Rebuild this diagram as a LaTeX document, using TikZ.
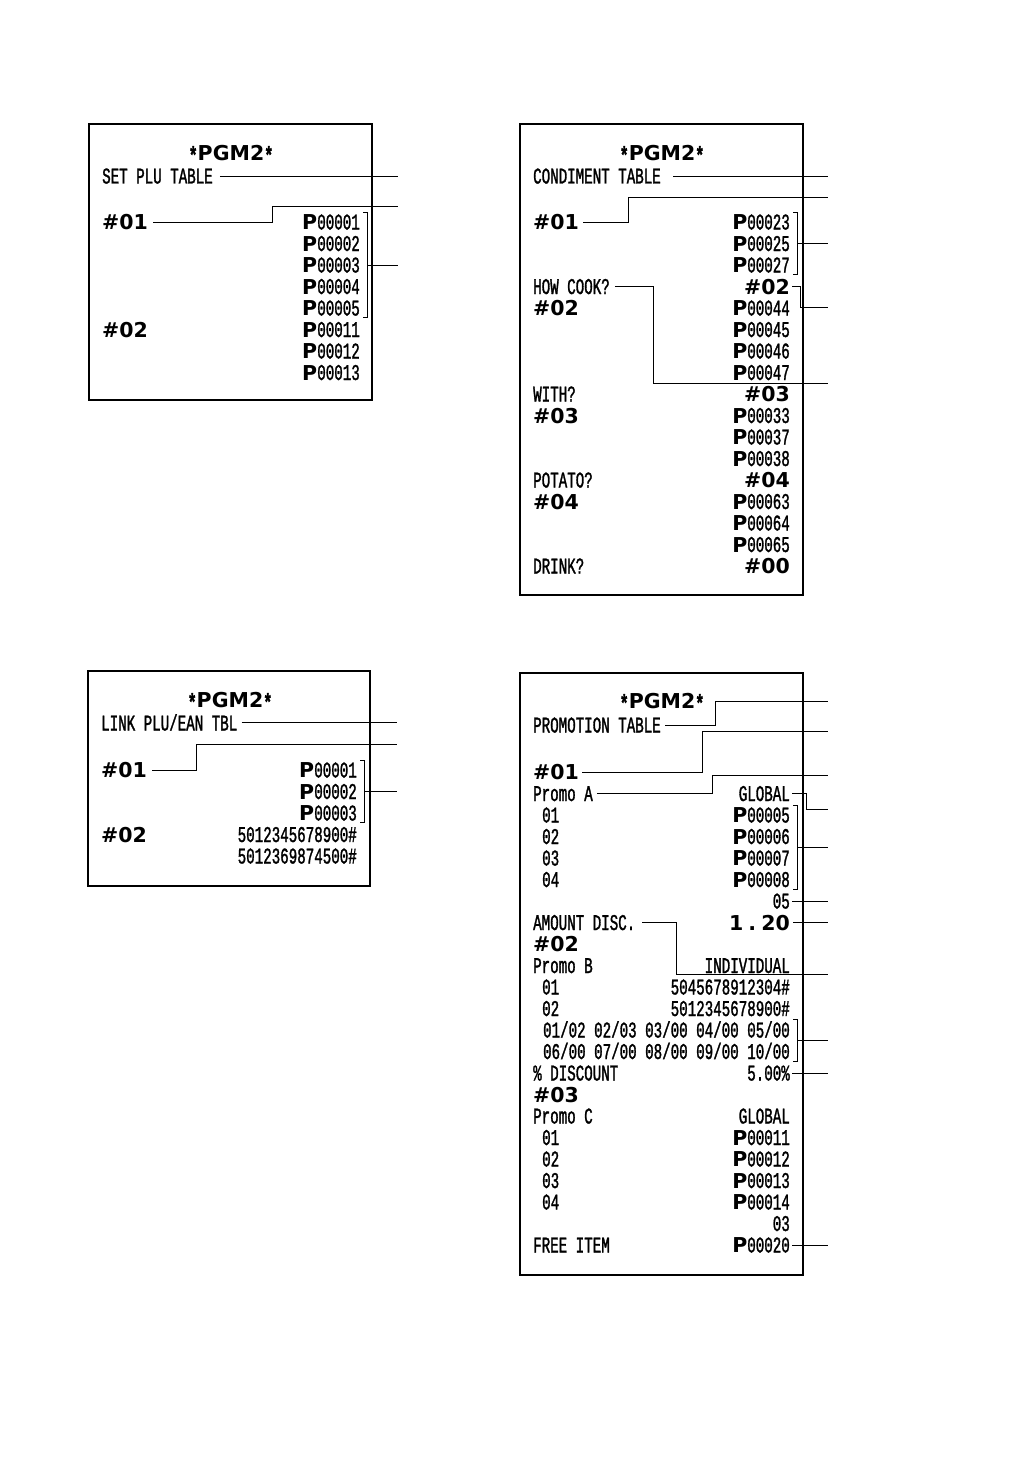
\documentclass[tikz,border=0pt]{standalone}
\usepackage{fontspec}
\usetikzlibrary{calc}
\newfontfamily\rcpt{Liberation Mono}[FakeStretch=0.63,FakeBold=1.3]
\newfontfamily\bigb{DejaVu Sans}
\newcommand\rc{\fontsize{22.5}{24}\rcpt}
\newcommand\bg{\fontsize{20.5}{22}\bigb\bfseries}
\newcommand\plu[1]{{\bg P}#1}
\newcommand\stx{\raisebox{-3pt}{\fontsize{24}{24}\rcpt*}}
\tikzset{
  slip/.style={draw,line width=1.2pt},
  lead/.style={line width=1pt},
  lt/.style={inner sep=0pt,anchor=base west,font=\rc},
  rt/.style={inner sep=0pt,anchor=base east,font=\rc},
  hd/.style={inner sep=0pt,anchor=base,font=\bg},
}
\begin{document}
\begin{tikzpicture}[x=1pt,y=-1pt]
    \useasboundingbox (0,0) rectangle (1032,1458);
    % set plu table
    \draw[slip] (89,124) rectangle (372,400);
    \node[hd] (pluhd) at (231,160.5) {\stx PGM2\stx};
    \node[lt] (plutt) at (102,183.5) {SET PLU TABLE};
    \node[lt,font=\bg] (plul0) at (102,229.5) {\#01};
    \node[lt,font=\bg] (plul5) at (102,337) {\#02};
    \foreach \n/\v in {0/00001,1/00002,2/00003,3/00004,4/00005,5/00011,6/00012,7/00013}
        {\node[rt] (plur\n) at (360,229.5+21.5*\n) {\plu{\v}};}
    \coordinate (pluea) at (398,175);
    \coordinate (plueb) at (398,206);
    \coordinate (pluec) at (398,265);
    \draw[lead] ([xshift=7pt]plutt.east) -- (plutt.east -| pluea);
    \draw[lead] ([xshift=5pt]plul0.east) -- ++(119,0) |- (plueb);
    \draw[lead] ([shift={(3pt,2pt)}]plur0.north east) -- ++(4,0) |- ([shift={(3pt,-2pt)}]plur4.south east);
    \draw[lead] ([xshift=7pt]plur2.east) -- (plur2.east -| pluec);
    % condiment table
    \draw[slip] (520,124) rectangle (803,595);
    \node[hd] (cndhd) at (662,160.5) {\stx PGM2\stx};
    \node[lt] (cndtt) at (533,183.5) {CONDIMENT TABLE};
    \foreach \n/\t in {3/HOW COOK?,8/WITH?,12/POTATO?,16/DRINK?}
        {\node[lt] (cndl\n) at (533,229.5+21.5*\n) {\t};}
    \foreach \n/\v in {0/01,4/02,9/03,13/04}
        {\node[lt,font=\bg] (cndl\n) at (533,229.5+21.5*\n) {\#\v};}
    \foreach \n/\v in {0/00023,1/00025,2/00027,4/00044,5/00045,6/00046,7/00047,9/00033,10/00037,11/00038,13/00063,14/00064,15/00065}
        {\node[rt] (cndr\n) at (790,229.5+21.5*\n) {\plu{\v}};}
    \foreach \n/\v in {3/02,8/03,12/04,16/00}
        {\node[rt,font=\bg] (cndr\n) at (790,229.5+21.5*\n) {\#\v};}
    \coordinate (cndea) at (828,177);
    \coordinate (cndeb) at (828,198);
    \coordinate (cndec) at (828,244);
    \coordinate (cnded) at (828,307);
    \coordinate (cndee) at (828,383);
    \draw[lead] ([xshift=12pt]cndtt.east) -- (cndtt.east -| cndea);
    \draw[lead] ([xshift=4pt]cndl0.east) -- ++(45,0) |- (cndeb);
    \draw[lead] ([shift={(3pt,2pt)}]cndr0.north east) -- ++(4,0) |- ([shift={(3pt,-2pt)}]cndr2.south east);
    \draw[lead] ([xshift=7pt]cndr1.east) -- (cndr1.east -| cndec);
    \draw[lead] ([xshift=2pt]cndr3.east) -- ++(8,0) |- (cnded);
    \draw[lead] ([xshift=5pt]cndl3.east) -- ++(39,0) |- (cndee);
    % link plu/ean table
    \draw[slip] (88,671) rectangle (370,886);
    \node[hd] (lnkhd) at (230,707.5) {\stx PGM2\stx};
    \node[lt] (lnktt) at (101,730.5) {LINK PLU/EAN TBL};
    \node[lt,font=\bg] (lnkl0) at (101,777.5) {\#01};
    \node[lt,font=\bg] (lnkl3) at (101,842) {\#02};
    \foreach \n/\v in {0/00001,1/00002,2/00003}
        {\node[rt] (lnkr\n) at (357,777.5+21.5*\n) {\plu{\v}};}
    \node[rt] (lnkr3) at (357,842) {5012345678900\#};
    \node[rt] (lnkr4) at (357,863.5) {5012369874500\#};
    \coordinate (lnkea) at (397,723);
    \coordinate (lnkeb) at (397,744);
    \coordinate (lnkec) at (397,791);
    \draw[lead] ([xshift=4pt]lnktt.east) -- (lnktt.east -| lnkea);
    \draw[lead] ([xshift=5pt]lnkl0.east) -- ++(44,0) |- (lnkeb);
    \draw[lead] ([shift={(3pt,2pt)}]lnkr0.north east) -- ++(4,0) |- ([shift={(3pt,-2pt)}]lnkr2.south east);
    \draw[lead] ([xshift=7pt]lnkr1.east) -- (lnkr1.east -| lnkec);
    % promotion table
    \draw[slip] (520,673) rectangle (803,1275);
    \node[hd] (prmhd) at (662,708.5) {\stx PGM2\stx};
    \node[lt] (prmtt) at (533,732.5) {PROMOTION TABLE};
    \foreach \n/\v in {0/01,8/02,15/03}
        {\node[lt,font=\bg] (prml\n) at (533,779.5+21.5*\n) {\#\v};}
    \foreach \n/\t in {1/Promo A,7/AMOUNT DISC.,9/Promo B,14/\% DISCOUNT,16/Promo C,22/FREE ITEM}
        {\node[lt] (prml\n) at (533,779.5+21.5*\n) {\t};}
    \foreach \n/\t in {2/01,3/02,4/03,5/04,10/01,11/02,17/01,18/02,19/03,20/04}
        {\node[lt] (prml\n) at (542,779.5+21.5*\n) {\t};}
    \foreach \n/\v in {2/00005,3/00006,4/00007,5/00008,17/00011,18/00012,19/00013,20/00014,22/00020}
        {\node[rt] (prmr\n) at (790,779.5+21.5*\n) {\plu{\v}};}
    \foreach \n/\t in {1/GLOBAL,6/05,9/INDIVIDUAL,10/5045678912304\#,11/5012345678900\#,12/{01/02 02/03 03/00 04/00 05/00},13/{06/00 07/00 08/00 09/00 10/00},14/5.00\%,16/GLOBAL,21/03}
        {\node[rt] (prmr\n) at (790,779.5+21.5*\n) {\t};}
    \node[rt,font=\bg] (prmr7) at (790,930) {1\kern5pt.\kern5pt20};
    \coordinate (prmea) at (828,701);
    \coordinate (prmeb) at (828,731);
    \coordinate (prmec) at (828,775);
    \coordinate (prmed) at (828,809);
    \coordinate (prmee) at (828,846);
    \coordinate (prmef) at (828,974);
    \coordinate (prmeg) at (828,1038);
    \draw[lead] ([xshift=4pt]prmtt.east) -- ++(50,0) |- (prmea);
    \draw[lead] ([xshift=3pt]prml0.east) -- ++(120,0) |- (prmeb);
    \draw[lead] ([xshift=4pt]prml1.east) -- ++(116,0) |- (prmec);
    \draw[lead] ([xshift=2pt]prmr1.east) -- ++(14,0) |- (prmed);
    \draw[lead] ([shift={(3pt,2pt)}]prmr2.north east) -- ++(4,0) |- ([shift={(3pt,-2pt)}]prmr5.south east);
    \coordinate (prmba) at ($(prmr3.east)!.5!(prmr4.east)+(7,0)$);
    \draw[lead] (prmba) -- (prmba -| prmee);
    \draw[lead] ([xshift=2pt]prmr6.east) -- (prmr6.east -| prmee);
    \draw[lead] ([xshift=3pt]prmr7.east) -- (prmr7.east -| prmee);
    \draw[lead] ([xshift=7pt]prml7.east) -- ++(34,0) |- (prmef);
    \draw[lead] ([shift={(3pt,2pt)}]prmr12.north east) -- ++(4,0) |- ([shift={(3pt,-2pt)}]prmr13.south east);
    \coordinate (prmbb) at ($(prmr12.east)!.5!(prmr13.east)+(7,0)$);
    \draw[lead] (prmbb) -- (prmbb -| prmeg);
    \draw[lead] ([xshift=2pt]prmr14.east) -- (prmr14.east -| prmee);
    \draw[lead] ([xshift=2pt]prmr22.east) -- (prmr22.east -| prmee);
\end{tikzpicture}
\end{document}
